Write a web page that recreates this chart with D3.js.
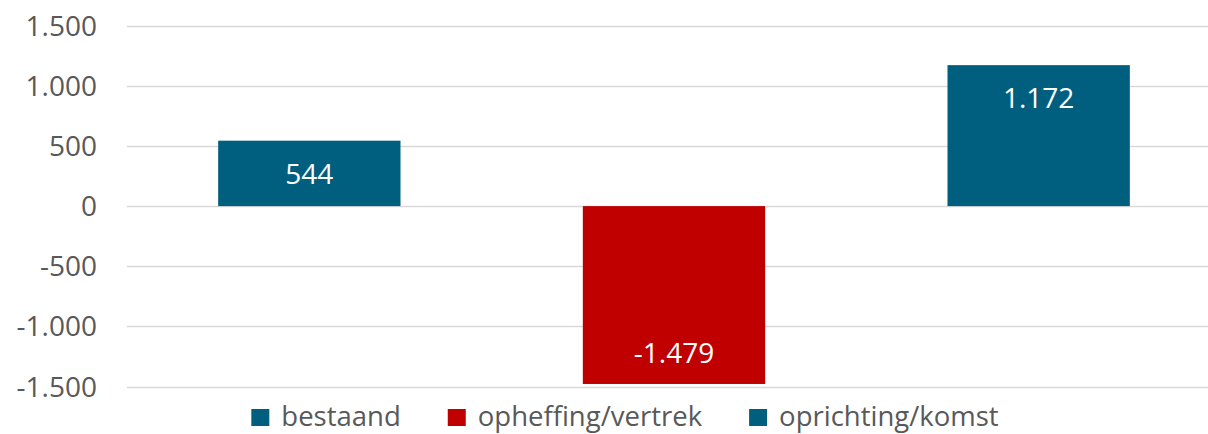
<!DOCTYPE html>
<html>
<head>
<meta charset="utf-8">
<script src="https://cdn.jsdelivr.net/npm/d3@7"></script>
<style>
  body { margin: 0; background: #fff; }
  svg { display: block; font-family: "Open Sans", sans-serif; }
</style>
</head>
<body>
<div id="chart"></div>
<script>
// data
const categories = ["bestaand", "opheffing/vertrek", "oprichting/komst"];
const values = [544, -1479, 1172];
const labels = ["544", "-1.479", "1.172"];
const colors = ["#005F7E", "#C00000", "#005F7E"];
const tickValues = [-1500, -1000, -500, 0, 500, 1000, 1500];
const tickLabels = ["-1.500", "-1.000", "-500", "0", "500", "1.000", "1.500"];

const width = 1208;
const height = 434;

const svg = d3.select("#chart")
  .append("svg")
  .attr("width", width)
  .attr("height", height);

// scales
const x = d3.scaleBand()
  .domain(categories)
  .range([127, 1221])
  .paddingInner(0.5)
  .paddingOuter(0.25);

const y = d3.scaleLinear()
  .domain([-1500, 1500])
  .range([386.5, 25.7]);

// gridlines
svg.selectAll("line.grid")
  .data(tickValues)
  .enter()
  .append("line")
  .attr("class", "grid")
  .attr("x1", 127)
  .attr("x2", width)
  .attr("y1", d => Math.round(y(d)) + 0.5)
  .attr("y2", d => Math.round(y(d)) + 0.5)
  .style("stroke", "#D9D9D9")
  .style("stroke-width", 1.5);

// y axis labels
svg.selectAll("text.tick")
  .data(tickValues)
  .enter()
  .append("text")
  .attr("class", "tick")
  .attr("x", 97)
  .attr("y", d => y(d))
  .attr("dy", "0.36em")
  .attr("text-anchor", "end")
  .style("font-size", "28px")
  .style("fill", "#595959")
  .text((d, i) => tickLabels[i]);

// bars
svg.selectAll("rect.bar")
  .data(values)
  .enter()
  .append("rect")
  .attr("class", "bar")
  .attr("x", (d, i) => x(categories[i]))
  .attr("width", x.bandwidth())
  .attr("y", d => y(Math.max(0, d)))
  .attr("height", d => Math.abs(y(d) - y(0)))
  .style("fill", (d, i) => colors[i]);

// data labels (inside end)
svg.selectAll("text.label")
  .data(values)
  .enter()
  .append("text")
  .attr("class", "label")
  .attr("x", (d, i) => x(categories[i]) + x.bandwidth() / 2)
  .attr("y", d => d >= 0 ? y(d) + 33 : y(d) - 31)
  .attr("dy", "0.36em")
  .attr("text-anchor", "middle")
  .style("font-size", "28px")
  .style("fill", "#fff")
  .text((d, i) => labels[i]);

// legend
const legend = svg.append("g");
const gap = 47;
let lx = 0;
categories.forEach((c, i) => {
  const g = legend.append("g").attr("transform", `translate(${lx},0)`);
  g.append("rect")
    .attr("x", 0)
    .attr("y", 409)
    .attr("width", 18)
    .attr("height", 17)
    .style("fill", colors[i]);
  const t = g.append("text")
    .attr("x", 30)
    .attr("y", 416.5)
    .attr("dy", "0.36em")
    .style("font-size", "27.5px")
    .style("fill", "#595959")
    .text(c);
  lx += 30 + t.node().getComputedTextLength() + gap;
});
const legendWidth = lx - gap;
legend.attr("transform", `translate(${625 - legendWidth / 2},0)`);
</script>
</body>
</html>
